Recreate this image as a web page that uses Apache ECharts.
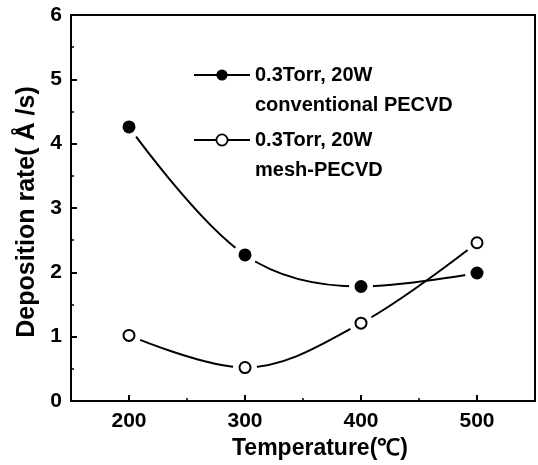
<!DOCTYPE html>
<html>
<head>
<meta charset="utf-8">
<script src="https://cdn.jsdelivr.net/npm/echarts@6/dist/echarts.min.js"></script>
<style>html,body{margin:0;padding:0;background:#fff}#c{width:538px;height:465px}</style>
</head>
<body>
<div id="c"></div>
<script>
var temperatures = [200, 300, 400, 500];
var conventional = [4.26, 2.27, 1.78, 1.99];
var mesh = [1.02, 0.52, 1.21, 2.46];
var xTickLabels = [200, 300, 400, 500];
var yTickLabels = [0, 1, 2, 3, 4, 5, 6];
var seriesNames = ['0.3Torr, 20W\nconventional PECVD', '0.3Torr, 20W\nmesh-PECVD'];

var FONT = '"Liberation Sans", Arial, sans-serif';
function pairs(xs, ys) { return xs.map(function (x, i) { return [x, ys[i]]; }); }

var chart = echarts.init(document.getElementById('c'), null, {renderer: 'canvas'});
var legendText = {fontFamily: FONT, fontSize: 20, fontWeight: 'bold', color: '#000', lineHeight: 30};
chart.setOption({
  animation: false,
  backgroundColor: '#fff',
  grid: {left: 71, right: 3, top: 15, bottom: 64, containLabel: false},
  legend: [
    {data: [{name: seriesNames[0], itemStyle: {color: '#000', borderWidth: 0}}],
     orient: 'vertical', left: 193, top: 30, itemWidth: 56, itemHeight: 14,
     formatter: function (n) { return '\n' + n; }, textStyle: legendText, itemGap: 0, padding: 0},
    {data: [{name: seriesNames[1], itemStyle: {color: '#fff', borderColor: '#000', borderWidth: 1.8}}],
     orient: 'vertical', left: 193, top: 95, itemWidth: 56, itemHeight: 14,
     formatter: function (n) { return '\n' + n; }, textStyle: legendText, itemGap: 0, padding: 0}
  ],
  xAxis: [
    {type: 'value', min: 150, max: 550, interval: 50, position: 'bottom',
     name: 'Temperature(℃)', nameLocation: 'middle', nameGap: 26,
     nameTextStyle: {fontFamily: FONT, fontSize: 23, fontWeight: 'bold', color: '#000', padding: [0, 0, 0, 34]},
     axisLine: {lineStyle: {color: '#000', width: 2}},
     axisTick: {inside: true, length: 3, lineStyle: {color: '#000', width: 1.5}},
     axisLabel: {customValues: xTickLabels, fontFamily: FONT, fontSize: 21, fontWeight: 'bold', color: '#000', margin: 10},
     splitLine: {show: false}},
    {type: 'value', min: 150, max: 550, position: 'bottom',
     axisLine: {show: false},
     axisTick: {inside: true, length: 6, customValues: xTickLabels, lineStyle: {color: '#000', width: 2}},
     axisLabel: {show: false}, splitLine: {show: false}},
    {type: 'value', min: 150, max: 550, position: 'top',
     axisLine: {lineStyle: {color: '#000', width: 2}}, axisTick: {show: false}, axisLabel: {show: false}, splitLine: {show: false}}
  ],
  yAxis: [
    {type: 'value', min: 0, max: 6, interval: 1, position: 'left',
     name: 'Deposition rate( Å /s)', nameLocation: 'middle', nameGap: 29, nameRotate: 90,
     nameTextStyle: {fontFamily: FONT, fontSize: 25, fontWeight: 'bold', color: '#000', padding: [0, 8, 0, 0]},
     axisLine: {lineStyle: {color: '#000', width: 2}},
     axisTick: {inside: true, length: 6, lineStyle: {color: '#000', width: 2}},
     minorTick: {show: true, splitNumber: 2, length: 3, lineStyle: {color: '#000', width: 1.5}},
     axisLabel: {customValues: yTickLabels, fontFamily: FONT, fontSize: 21, fontWeight: 'bold', color: '#000', margin: 9},
     splitLine: {show: false}},
    {type: 'value', min: 0, max: 6, position: 'right',
     axisLine: {lineStyle: {color: '#000', width: 2}}, axisTick: {show: false}, axisLabel: {show: false}, splitLine: {show: false}}
  ],
  series: [
    {name: seriesNames[0], type: 'line', smooth: 0.35, data: pairs(temperatures, conventional),
     symbol: 'circle', symbolSize: 12, itemStyle: {color: '#000'}, lineStyle: {color: '#000', width: 2}},
    {name: seriesNames[1], type: 'line', smooth: 0.35, data: pairs(temperatures, mesh),
     symbol: 'circle', symbolSize: 11, itemStyle: {color: '#fff', borderColor: '#000', borderWidth: 1.8}, lineStyle: {color: '#000', width: 2}},
    {type: 'scatter', zlevel: 1, symbolSize: 24, data: pairs(temperatures, conventional).concat(pairs(temperatures, mesh)),
     itemStyle: {color: '#fff', opacity: 1}, silent: true},
    {type: 'scatter', zlevel: 2, symbolSize: 13, data: pairs(temperatures, conventional),
     itemStyle: {color: '#000', opacity: 1}, silent: true},
    {type: 'scatter', zlevel: 2, symbolSize: 11, data: pairs(temperatures, mesh),
     itemStyle: {color: '#fff', borderColor: '#000', borderWidth: 2, opacity: 1}, silent: true}
  ]
});
</script>
</body>
</html>
